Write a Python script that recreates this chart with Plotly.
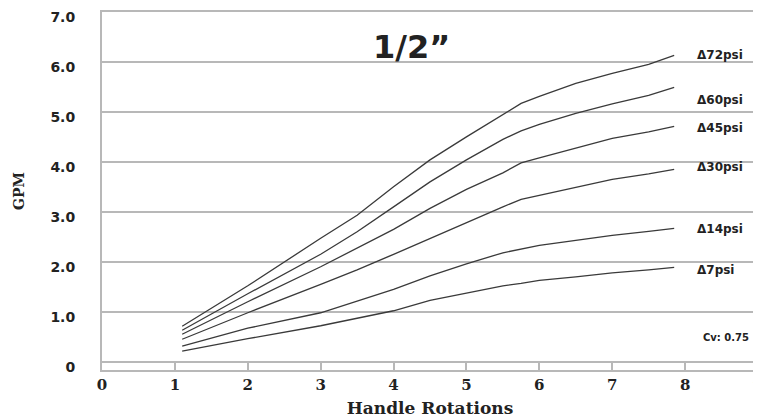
import plotly.graph_objects as go

rotations = [1.1, 2, 3, 3.5, 4, 4.5, 5, 5.5, 5.75, 6, 6.5, 7, 7.5, 7.85]
gpm_72 = [0.71, 1.52, 2.47, 2.93, 3.50, 4.04, 4.50, 4.95, 5.17, 5.31, 5.57, 5.77, 5.95, 6.13]
gpm_60 = [0.63, 1.36, 2.15, 2.60, 3.10, 3.60, 4.04, 4.45, 4.62, 4.75, 4.97, 5.16, 5.33, 5.49]
gpm_45 = [0.55, 1.20, 1.90, 2.27, 2.65, 3.07, 3.45, 3.78, 3.98, 4.08, 4.28, 4.47, 4.60, 4.71]
gpm_30 = [0.45, 0.98, 1.55, 1.84, 2.15, 2.47, 2.78, 3.10, 3.25, 3.33, 3.50, 3.65, 3.76, 3.85]
gpm_14 = [0.31, 0.67, 0.98, 1.22, 1.45, 1.72, 1.96, 2.18, 2.26, 2.33, 2.43, 2.53, 2.61, 2.67]
gpm_7 = [0.21, 0.46, 0.72, 0.87, 1.02, 1.23, 1.38, 1.52, 1.57, 1.63, 1.70, 1.78, 1.84, 1.89]

series_names = ["Δ72psi", "Δ60psi", "Δ45psi", "Δ30psi", "Δ14psi", "Δ7psi"]
series_values = [gpm_72, gpm_60, gpm_45, gpm_30, gpm_14, gpm_7]
label_y = [6.13, 5.23, 4.67, 3.89, 2.65, 1.83]

x_ticks = list(range(0, 10))
y_ticks = [0, 1, 2, 3, 4, 5, 6, 7]
y_ticktext = ["0", "1.0", "2.0", "3.0", "4.0", "5.0", "6.0", "7.0"]

title_text = "1/2”"
cv_text = "Cv: 0.75"

GRID = "#b8b8b8"
LINE = "#3a3a3a"
TXT = "#222222"

fig = go.Figure()
for name, vals in zip(series_names, series_values):
    fig.add_trace(go.Scatter(x=rotations, y=vals, mode="lines", name=name,
                             line=dict(color=LINE, width=1.3), showlegend=False))

annotations = []
for name, ly in zip(series_names, label_y):
    annotations.append(dict(x=8.14, y=ly, xref="x", yref="y", text=name, showarrow=False,
                            xanchor="left", yanchor="middle",
                            font=dict(family="DejaVu Sans", size=12, color=TXT, weight="bold")))
annotations.append(dict(x=8.9, y=0.49, xref="x", yref="y", text=cv_text, showarrow=False,
                        xanchor="right", yanchor="middle",
                        font=dict(family="DejaVu Sans", size=10, color=TXT, weight="bold")))
annotations.append(dict(x=4.24, y=6.3, xref="x", yref="y", text=title_text, showarrow=False,
                        xanchor="center", yanchor="middle",
                        font=dict(family="DejaVu Sans", size=32, color=TXT, weight="bold")))

# the page body adds an 8px margin, so the figure is sized to fit inside it
fig.update_layout(
    width=753, height=411,
    margin=dict(l=94, r=3, t=4, b=49),
    plot_bgcolor="white", paper_bgcolor="white",
    annotations=annotations,
    xaxis=dict(range=[0, 9], tickvals=x_ticks, showgrid=False, zeroline=False,
               automargin=False, ticklabeloverflow="allow",
               showline=True, linecolor=GRID, linewidth=2, mirror=True,
               ticks="inside", ticklen=9, tickwidth=2, tickcolor=GRID,
               tickfont=dict(family="DejaVu Serif", size=15, color=TXT, weight="bold"),
               title=dict(text="Handle Rotations", standoff=9,
                          font=dict(family="DejaVu Serif", size=17, color=TXT, weight="bold"))),
    yaxis=dict(range=[-0.166, 7], tickvals=y_ticks, ticktext=y_ticktext,
               automargin=False, ticklabeloverflow="allow",
               showgrid=True, gridcolor=GRID, gridwidth=2, zeroline=False,
               showline=True, linecolor=GRID, linewidth=2, mirror=True,
               ticks="", ticklabelstandoff=22, ticklabelshift=5,
               tickfont=dict(family="DejaVu Sans", size=14, color=TXT, weight="bold"),
               title=dict(text="GPM", standoff=22,
                          font=dict(family="DejaVu Serif", size=14, color=TXT, weight="bold"))),
)

fig.write_html("out.html")
